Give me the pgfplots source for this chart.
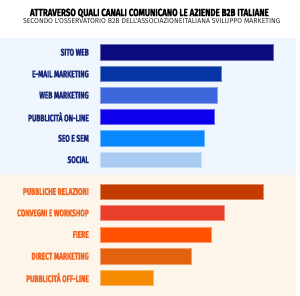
\documentclass[border=0pt]{standalone}
\usepackage{fontspec}
\setmainfont{Fira Sans}[FakeStretch=0.76, BoldFeatures={FakeBold=1.2}]
\newfontfamily\labfont{Fira Sans}[FakeStretch=0.68, BoldFeatures={FakeBold=1.5}]
\newfontfamily\subfont{Fira Sans}[FakeStretch=0.98]
\usepackage{pgfplots}
\pgfplotsset{compat=1.18}
\definecolor{topbg}{HTML}{EFF6FD}
\definecolor{botbg}{HTML}{FDF5EA}
\definecolor{toplab}{HTML}{1B2A7A}
\definecolor{botlab}{HTML}{F26522}
\definecolor{c1}{HTML}{0B0A7E}
\definecolor{c2}{HTML}{0535A5}
\definecolor{c3}{HTML}{3F67DC}
\definecolor{c4}{HTML}{0C00EE}
\definecolor{c5}{HTML}{0A88FF}
\definecolor{c6}{HTML}{A9CCF2}
\definecolor{d1}{HTML}{C43D00}
\definecolor{d2}{HTML}{E8402A}
\definecolor{d3}{HTML}{FF5100}
\definecolor{d4}{HTML}{E3620F}
\definecolor{d5}{HTML}{F68A00}
\newcommand{\bl}[1]{\textcolor{botlab}{#1}}
\begin{document}
\begin{tikzpicture}[x=1pt,y=1pt]
\fill[white] (0,0) rectangle (300,300);
\fill[topbg] (0,123) rectangle (300,261);
\fill[botbg] (0,0) rectangle (300,123);
\node[anchor=base,font=\bfseries\fontsize{10.6}{12}\selectfont,text=black,inner sep=0pt] at (151.5,283.7) {ATTRAVERSO QUALI CANALI COMUNICANO LE AZIENDE B2B ITALIANE};
\node[anchor=base,font=\subfont\fontsize{7.2}{8}\selectfont,text=black!85,inner sep=0pt] at (153.8,276.3) {SECONDO L'OSSERVATORIO B2B DELL'ASSOCIAZIONEITALIANA SVILUPPO MARKETING};
\begin{axis}[
  at={(102pt,0pt)}, anchor=south west,
  width=198pt, height=300pt, scale only axis,
  xmin=0, xmax=198, ymin=0, ymax=300, y dir=reverse,
  clip=false,
  xbar, bar width=15.5, bar shift=0pt,
  axis line style={draw=none}, tick style={draw=none},
  xtick=\empty,
  ytick={53,75,96.5,118.5,140.3,162,194.3,216,237.8,259.8,281.5},
  yticklabels={SITO WEB,E-MAIL MARKETING,WEB MARKETING,PUBBLICITÀ ON-LINE,SEO E SEM,SOCIAL,\bl{PUBBLICHE RELAZIONI},\bl{CONVEGNI E WORKSHOP},\bl{FIERE},\bl{DIRECT MARKETING},\bl{PUBBLICITÀ OFF-LINE}},
  yticklabel style={anchor=east, inner sep=0pt, xshift=-7.5pt, font=\labfont\bfseries\fontsize{9.8}{10}\selectfont,
    text={toplab}},
]
\addplot[fill=c1, draw=c1!60!white, line width=0.5pt] coordinates {(174.7,53)};
\addplot[fill=c2, draw=c2!60!white, line width=0.5pt] coordinates {(122,75)};
\addplot[fill=c3, draw=c3!60!white, line width=0.5pt] coordinates {(118.7,96.5)};
\addplot[fill=c4, draw=c4!60!white, line width=0.5pt] coordinates {(115.3,118.5)};
\addplot[fill=c5, draw=c5!60!white, line width=0.5pt] coordinates {(105.3,140.3)};
\addplot[fill=c6, draw=c6!60!white, line width=0.5pt] coordinates {(102,162)};
\addplot[fill=d1, draw=d1!60!white, line width=0.5pt] coordinates {(164.7,194.3)};
\addplot[fill=d2, draw=d2!60!white, line width=0.5pt] coordinates {(125.3,216)};
\addplot[fill=d3, draw=d3!60!white, line width=0.5pt] coordinates {(112,237.8)};
\addplot[fill=d4, draw=d4!60!white, line width=0.5pt] coordinates {(92.3,259.8)};
\addplot[fill=d5, draw=d5!60!white, line width=0.5pt] coordinates {(53,281.5)};
\end{axis}
\end{tikzpicture}
\end{document}
